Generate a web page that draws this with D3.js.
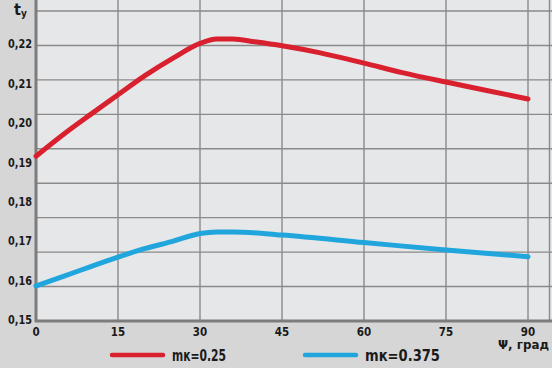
<!DOCTYPE html>
<html><head><meta charset="utf-8">
<script src="https://cdn.jsdelivr.net/npm/d3@7"></script>
<style>
body{margin:0;background:#d6d6d6;}
text{font-family:"Liberation Sans Narrow","DejaVu Sans Condensed","Liberation Sans",sans-serif;font-weight:bold;fill:#1a1a1a;}
</style></head>
<body><svg id="c" width="552" height="368"></svg>
<script>
const xTicks = [0, 15, 30, 45, 60, 75, 90];
const yTicks = [0.15, 0.16, 0.17, 0.18, 0.19, 0.20, 0.21, 0.22];
const redSeries = [[0,0.1918],[5,0.1973],[10,0.2024],[15,0.2074],[20,0.2123],[25,0.2166],[30,0.2204],[33,0.2215],[36,0.2215],[40,0.2208],[45,0.2198],[52,0.2180],[60,0.2154],[67,0.2130],[75,0.2106],[82,0.2086],[90,0.2063]];
const blueSeries = [[0,0.1589],[5,0.1613],[10,0.1638],[15,0.1662],[20,0.1684],[25,0.1702],[30,0.1722],[33,0.1726],[36,0.1726],[45,0.1718],[60,0.1699],[75,0.1680],[90,0.1663]];
const legendLabels = ["mк=0.25", "mк=0.375"];
const xTitle = "Ψ, град";

const svg = d3.select("#c");
const x = d3.scaleLinear().domain([0, 90]).range([36, 528]);
const y = d3.scaleLinear().domain([0.15, 0.22]).range([321, 45]);
const topVal = y.invert(11);
const gridVals = d3.range(10).map(i => 0.15 + i * (topVal - 0.15) / 9);

svg.append("rect").attr("x", 37).attr("y", 0).attr("width", 515).attr("height", 320).attr("fill", "#e6e7e9");

svg.append("g").selectAll("line").data(gridVals.slice(1)).join("line")
  .attr("x1", 37).attr("x2", 552).attr("y1", d => y(d)).attr("y2", d => y(d))
  .attr("stroke", "#8a8a8a").attr("stroke-width", 1.4);
svg.append("g").selectAll("line").data(xTicks.slice(1).concat([x.invert(549.5)])).join("line")
  .attr("x1", d => x(d)).attr("x2", d => x(d)).attr("y1", 0).attr("y2", 320)
  .attr("stroke", "#8a8a8a").attr("stroke-width", 1.4);

svg.append("line").attr("x1", 36).attr("x2", 36).attr("y1", 0).attr("y2", 322).attr("stroke", "#7d7d7d").attr("stroke-width", 3);
svg.append("line").attr("x1", 35).attr("x2", 552).attr("y1", 321).attr("y2", 321).attr("stroke", "#7d7d7d").attr("stroke-width", 3);

const line = d3.line().x(d => x(d[0])).y(d => y(d[1])).curve(d3.curveMonotoneX);
svg.append("path").datum(redSeries).attr("d", line).attr("fill", "none").attr("stroke", "#d9202e").attr("stroke-width", 5).attr("stroke-linecap", "round");
svg.append("path").datum(blueSeries).attr("d", line).attr("fill", "none").attr("stroke", "#20a6dd").attr("stroke-width", 5).attr("stroke-linecap", "round");

svg.append("g").selectAll("text").data(yTicks).join("text")
  .attr("x", 32).attr("y", d => y(d) - 1).attr("dy", "0.36em").attr("text-anchor", "end")
  .attr("font-size", 12).attr("textLength", 24).attr("lengthAdjust", "spacingAndGlyphs")
  .text(d => d3.format(".2f")(d).replace(".", ","));
svg.append("g").selectAll("text").data(xTicks).join("text")
  .attr("x", d => x(d)).attr("y", 332).attr("dy", "0.36em").attr("text-anchor", "middle")
  .attr("font-size", 11.5).text(d => d);

const ty = svg.append("text").attr("x", 14).attr("y", 15).attr("font-size", 16);
ty.append("tspan").text("t");
ty.append("tspan").attr("font-size", 10).attr("dy", 2).text("y");
svg.append("text").attr("x", 549).attr("y", 349).attr("text-anchor", "end").attr("font-size", 12)
  .attr("textLength", 51).attr("lengthAdjust", "spacingAndGlyphs").text(xTitle);

const legendColors = ["#d9202e", "#20a6dd"];
const legendX = [110, 303];
const legendLen = [54, 75];
legendLabels.forEach((lab, i) => {
  svg.append("line").attr("x1", legendX[i] + 2).attr("x2", legendX[i] + 53).attr("y1", 355).attr("y2", 355)
    .attr("stroke", legendColors[i]).attr("stroke-width", 4.5).attr("stroke-linecap", "round");
  svg.append("text").attr("x", legendX[i] + 62).attr("y", 361).attr("font-size", 16)
    .attr("textLength", legendLen[i]).attr("lengthAdjust", "spacingAndGlyphs").text(lab);
});
</script></body></html>
